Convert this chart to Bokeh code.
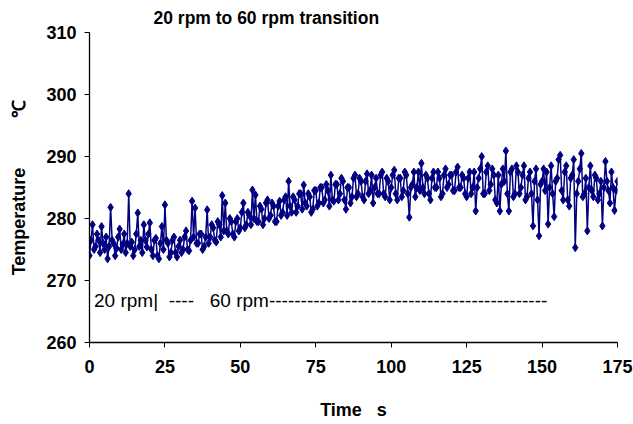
from bokeh.plotting import figure
from bokeh.models import Range1d, Label, FixedTicker
from bokeh.embed import file_html
from bokeh.resources import INLINE

temperature = [
    274.0, 276.5, 279.0, 275.0, 275.5, 277.5, 276.5, 274.5, 278.7, 276.0, 275.0, 277.0, 273.5, 275.5, 281.8, 276.5, 276.0, 274.0, 275.2, 277.0,
    278.3, 275.0, 275.8, 277.5, 274.5, 276.0, 284.0, 275.5, 276.2, 274.0, 275.0, 277.5, 280.9, 275.5, 276.5, 274.5, 279.0, 276.5, 275.4, 277.5,
    279.3, 275.0, 274.0, 276.5, 276.8, 274.0, 273.5, 276.0, 278.7, 275.0, 282.2, 276.5, 276.0, 273.8, 274.5, 276.5, 277.0, 274.5, 273.8, 275.5,
    276.5, 274.5, 275.0, 277.0, 278.0, 275.0, 274.8, 276.5, 282.8, 277.0, 281.7, 276.0, 276.0, 277.5, 277.5, 275.0, 275.5, 277.0, 281.4, 276.0,
    277.0, 279.0, 278.5, 276.5, 276.2, 279.5, 279.0, 277.0, 283.7, 278.0, 282.5, 278.0, 277.5, 280.0, 279.5, 277.5, 277.0, 279.5, 280.0, 278.0,
    278.5, 281.0, 282.5, 278.5, 279.0, 281.0, 280.5, 279.0, 284.6, 280.0, 283.8, 279.5, 279.5, 282.0, 281.5, 279.0, 280.0, 282.5, 283.0, 280.0,
    280.5, 282.5, 282.0, 279.5, 279.5, 282.0, 282.8, 280.5, 281.0, 283.0, 283.5, 280.5, 286.0, 282.0, 281.0, 283.5, 283.0, 281.0, 282.0, 284.0,
    284.0, 281.5, 285.4, 282.5, 282.0, 284.0, 283.5, 281.0, 281.5, 284.5, 284.5, 282.0, 282.5, 285.0, 285.0, 282.5, 283.0, 285.5, 284.5, 282.0,
    287.0, 283.0, 282.8, 285.5, 285.5, 283.0, 284.0, 286.5, 286.0, 283.0, 281.5, 285.0, 285.0, 282.5, 283.5, 286.5, 287.0, 283.5, 284.0, 286.5,
    286.0, 283.5, 283.0, 286.0, 287.2, 284.0, 284.5, 287.0, 282.5, 285.0, 286.5, 284.0, 284.0, 287.0, 287.5, 284.0, 283.5, 286.5, 286.0, 283.0,
    285.0, 287.0, 287.8, 284.0, 283.0, 286.5, 286.5, 283.5, 284.5, 287.5, 287.0, 284.0, 280.2, 285.0, 285.5, 287.5, 283.5, 285.0, 287.5, 284.5,
    288.9, 285.0, 284.0, 287.0, 286.5, 284.0, 283.0, 286.5, 287.5, 285.0, 285.0, 287.5, 286.5, 283.5, 284.0, 287.0, 288.0, 285.0, 285.5, 287.0,
    287.0, 284.5, 284.5, 287.5, 288.3, 285.0, 285.0, 287.0, 286.5, 284.0, 283.5, 286.5, 287.5, 284.0, 285.0, 287.5, 281.2, 285.0, 286.5, 288.0,
    290.0, 284.0, 284.0, 287.5, 288.5, 284.5, 285.5, 288.0, 287.0, 283.0, 282.5, 287.0, 281.2, 285.5, 288.0, 286.0, 290.9, 284.0, 281.2, 287.5,
    288.0, 283.5, 284.0, 288.5, 287.5, 284.0, 285.0, 287.0, 288.5, 283.0, 283.5, 286.5, 287.5, 284.0, 278.8, 286.0, 288.0, 283.0, 277.2, 285.5,
    286.0, 288.0, 284.5, 287.5, 279.1, 285.0, 288.5, 284.0, 280.3, 286.0, 286.5, 289.5, 290.2, 284.5, 283.0, 287.5, 288.5, 283.0, 282.0, 286.5,
    287.0, 289.5, 275.3, 284.0, 286.0, 288.0, 290.5, 283.5, 284.0, 286.5, 278.0, 285.0, 288.5, 284.5, 283.5, 287.0, 286.5, 283.0, 284.0, 286.0,
    278.8, 285.0, 289.2, 286.0, 284.5, 282.5, 287.5, 285.0, 281.3, 284.5, 286.0,
]
time_s = [i * 0.5 for i in range(len(temperature))]
x_ticks = [0, 25, 50, 75, 100, 125, 150, 175]
y_ticks = [260, 270, 280, 290, 300, 310]
title_text = "20 rpm to 60 rpm transition"
NB = "\u00a0"
note_text = "20 rpm|" + NB * 2 + "----" + NB * 3 + "60 rpm" + "-" * 44
y_label = "Temperature" + NB * 10 + "\u2103"

FONT = "'Liberation Sans', Arial, sans-serif"
NAVY = "#000080"

p = figure(width=633, height=424, output_backend="svg", toolbar_location=None,
           x_range=Range1d(0, 175), y_range=Range1d(260, 310),
           min_border_left=89, min_border_right=16, min_border_top=30,
           min_border_bottom=82, title=title_text)
p.outline_line_color = None
p.xgrid.visible = False
p.ygrid.visible = False
p.background_fill_color = "white"
p.border_fill_color = "white"

p.title.text_font = FONT
p.title.text_font_size = "17.5px"
p.title.text_font_style = "bold"
p.title.align = "left"
p.title.offset = 64
p.title.text_color = "black"

p.line(time_s, temperature, line_color=NAVY, line_width=1.5)
p.scatter(time_s, temperature, marker="diamond", size=8, fill_color=NAVY, line_color=NAVY)

for ax in (p.xaxis[0], p.yaxis[0]):
    ax.axis_line_color = "black"
    ax.axis_line_width = 1.3
    ax.major_tick_line_color = "black"
    ax.major_tick_in = 0
    ax.major_tick_out = 5
    ax.minor_tick_line_color = None
    ax.major_label_text_font = FONT
    ax.major_label_text_font_size = "18px"
    ax.major_label_text_font_style = "bold"
    ax.major_label_text_color = "black"
    ax.axis_label_text_font = FONT
    ax.axis_label_text_font_size = "18px"
    ax.axis_label_text_font_style = "bold"
    ax.axis_label_text_color = "black"

p.xaxis.ticker = FixedTicker(ticks=x_ticks)
p.yaxis.ticker = FixedTicker(ticks=y_ticks)
p.xaxis.axis_label = "Time" + NB * 3 + "s"
p.yaxis.axis_label = y_label
p.xaxis.major_label_standoff = 12
p.xaxis.axis_label_standoff = 24
p.yaxis.major_label_standoff = 8
p.yaxis.axis_label_standoff = 14

note = Label(x=1.5, y=266.7, text=note_text, text_font=FONT, text_font_size="19px",
             text_baseline="middle", text_color="black")
p.add_layout(note)

open("out.html", "w").write(file_html(p, INLINE))
